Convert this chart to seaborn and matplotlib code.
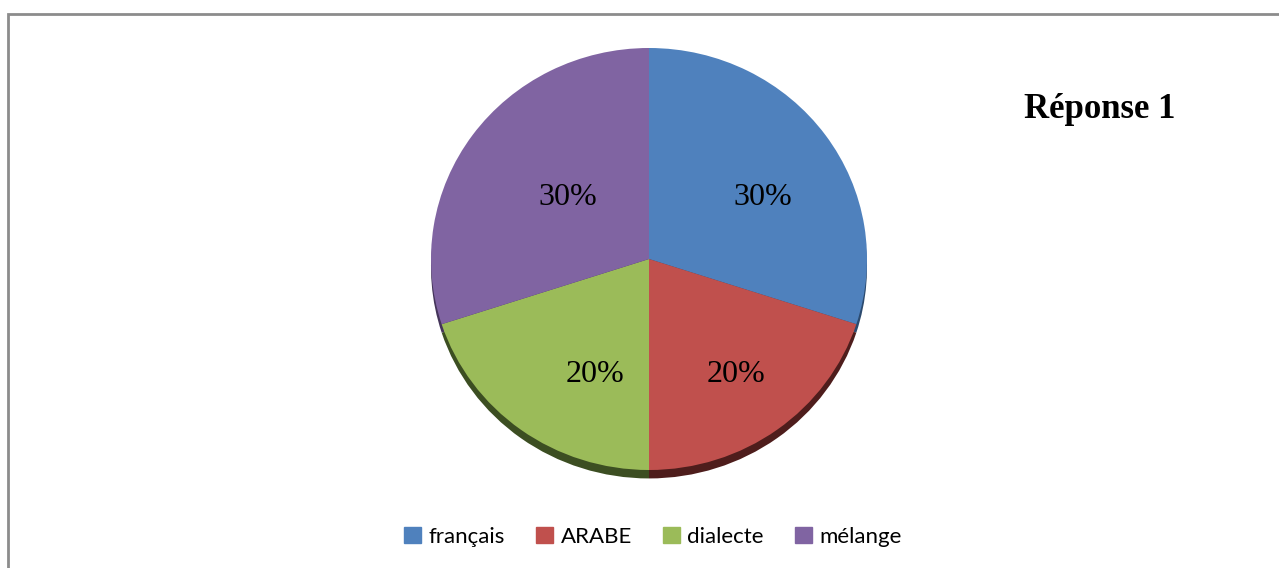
import matplotlib
matplotlib.use("Agg")
import matplotlib.pyplot as plt
import matplotlib.patches as mpatches
import seaborn as sns

# === DONNÉES ===
categories = ["français", "ARABE", "dialecte", "mélange"]
valeurs = [30, 20, 20, 30]
couleurs = ["#4f81bd", "#c0504d", "#9bbb59", "#8064a2"]
couleurs_ombre = ["#2c4a6e", "#4e1d1c", "#3c4e22", "#45355a"]
titre = "Réponse 1"

sns.set_style("white")
palette = sns.color_palette(couleurs)
ombre = sns.color_palette(couleurs_ombre)

fig = plt.figure(figsize=(12.79, 5.68), dpi=100)

# cadre gris (seuls les bords haut et gauche sont visibles)
fig.add_artist(mpatches.Rectangle((7.5 / 1279, -0.1), 1.2, (568 - 13.5) / 568 + 0.1,
                                  transform=fig.transFigure, fill=False,
                                  edgecolor="#8c8c8c", linewidth=2))

ax = fig.add_axes([431 / 1279, (568 - 470) / 568, 436 / 1279, 422 / 568])

# ombre 3D sous le camembert
ax.pie(valeurs, colors=ombre, startangle=90, counterclock=False,
       center=(0, -0.04), radius=1.0, wedgeprops=dict(linewidth=0))

wedges, texts, autotexts = ax.pie(
    valeurs, colors=palette, startangle=90, counterclock=False,
    autopct="%1.0f%%", pctdistance=0.6, radius=1.0,
    wedgeprops=dict(linewidth=0),
    textprops=dict(fontsize=23, family="Liberation Serif", color="black"))

# Excel place les étiquettes un peu plus bas / vers la droite
for t in autotexts:
    x, y = t.get_position()
    t.set_position((x * 0.92 + 0.075, y - 0.06))

ax.set_aspect("auto")
ax.set_xlim(-1, 1)
ax.set_ylim(-1.0, 1.0)
ax.axis("off")

fig.text(1100 / 1279, 1 - 110 / 568, titre, ha="center", va="center",
         fontsize=25, fontweight="bold", family="Liberation Serif", color="black")

handles = [mpatches.Patch(color=c, label=l) for c, l in zip(palette, categories)]
leg = fig.legend(handles=handles, loc="center", bbox_to_anchor=(653 / 1279, 1 - 537 / 568),
                 ncol=4, frameon=False, handlelength=0.75, handleheight=0.75,
                 handletextpad=0.35, columnspacing=1.4,
                 prop=dict(family="Lato", size=16))
for t in leg.get_texts():
    t.set_color("black")

plt.savefig("out.png", dpi=100)
plt.close()
